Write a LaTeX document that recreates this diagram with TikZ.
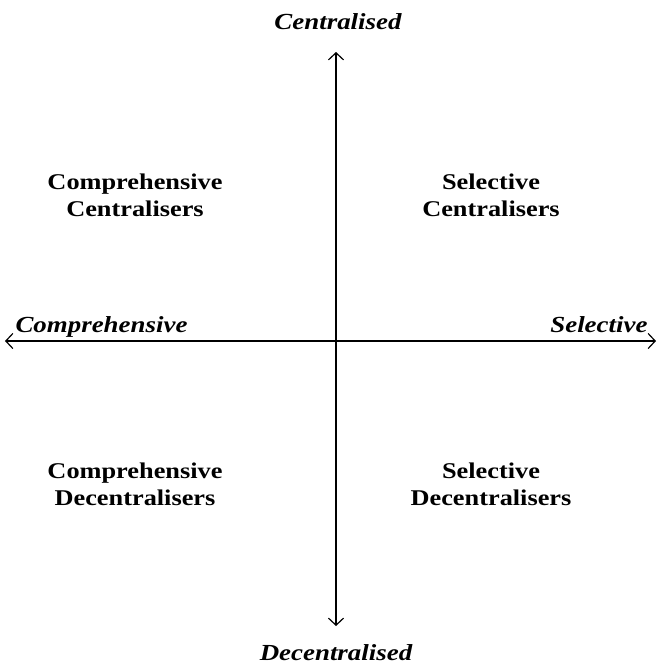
\documentclass[tikz,border=0pt]{standalone}
\usepackage{fontspec}
\setmainfont{Liberation Serif}[FakeStretch=1.17]
\usetikzlibrary{arrows.meta}

\begin{document}
\begin{tikzpicture}[x=1pt,y=-1pt,
  axis/.style={line width=1.5pt,{Straight Barb[length=7pt,width=15pt,line width=1.2pt]}-{Straight Barb[length=7pt,width=15pt,line width=1.2pt]}},
  axislabel/.style={font=\fontsize{23}{26}\selectfont\bfseries\itshape},
  quadlabel/.style={font=\fontsize{22.5}{27}\selectfont\bfseries,align=center}]

\useasboundingbox (0,0) rectangle (657,665);

% Achsen
\coordinate (west) at (5,341);
\coordinate (east) at (656,341);
\coordinate (north) at (336,52);
\coordinate (south) at (336,626);
\draw[axis] (west) -- (east);
\draw[axis] (north) -- (south);

% Achsenbeschriftung
\node[axislabel] (cent) at (338,22) {Centralised};
\node[axislabel] (decent) at (336,653) {Decentralised};
\node[axislabel,anchor=base west] (comp) at (12,332) {Comprehensive};
\node[axislabel,anchor=base east] (sel) at (651,332) {Selective};

% Quadranten
\node[quadlabel] (cc) at (135,195) {Comprehensive\\Centralisers};
\node[quadlabel] (sc) at (491,195) {Selective\\Centralisers};
\node[quadlabel] (cd) at (135,484) {Comprehensive\\Decentralisers};
\node[quadlabel] (sd) at (491,484) {Selective\\Decentralisers};

\end{tikzpicture}
\end{document}
